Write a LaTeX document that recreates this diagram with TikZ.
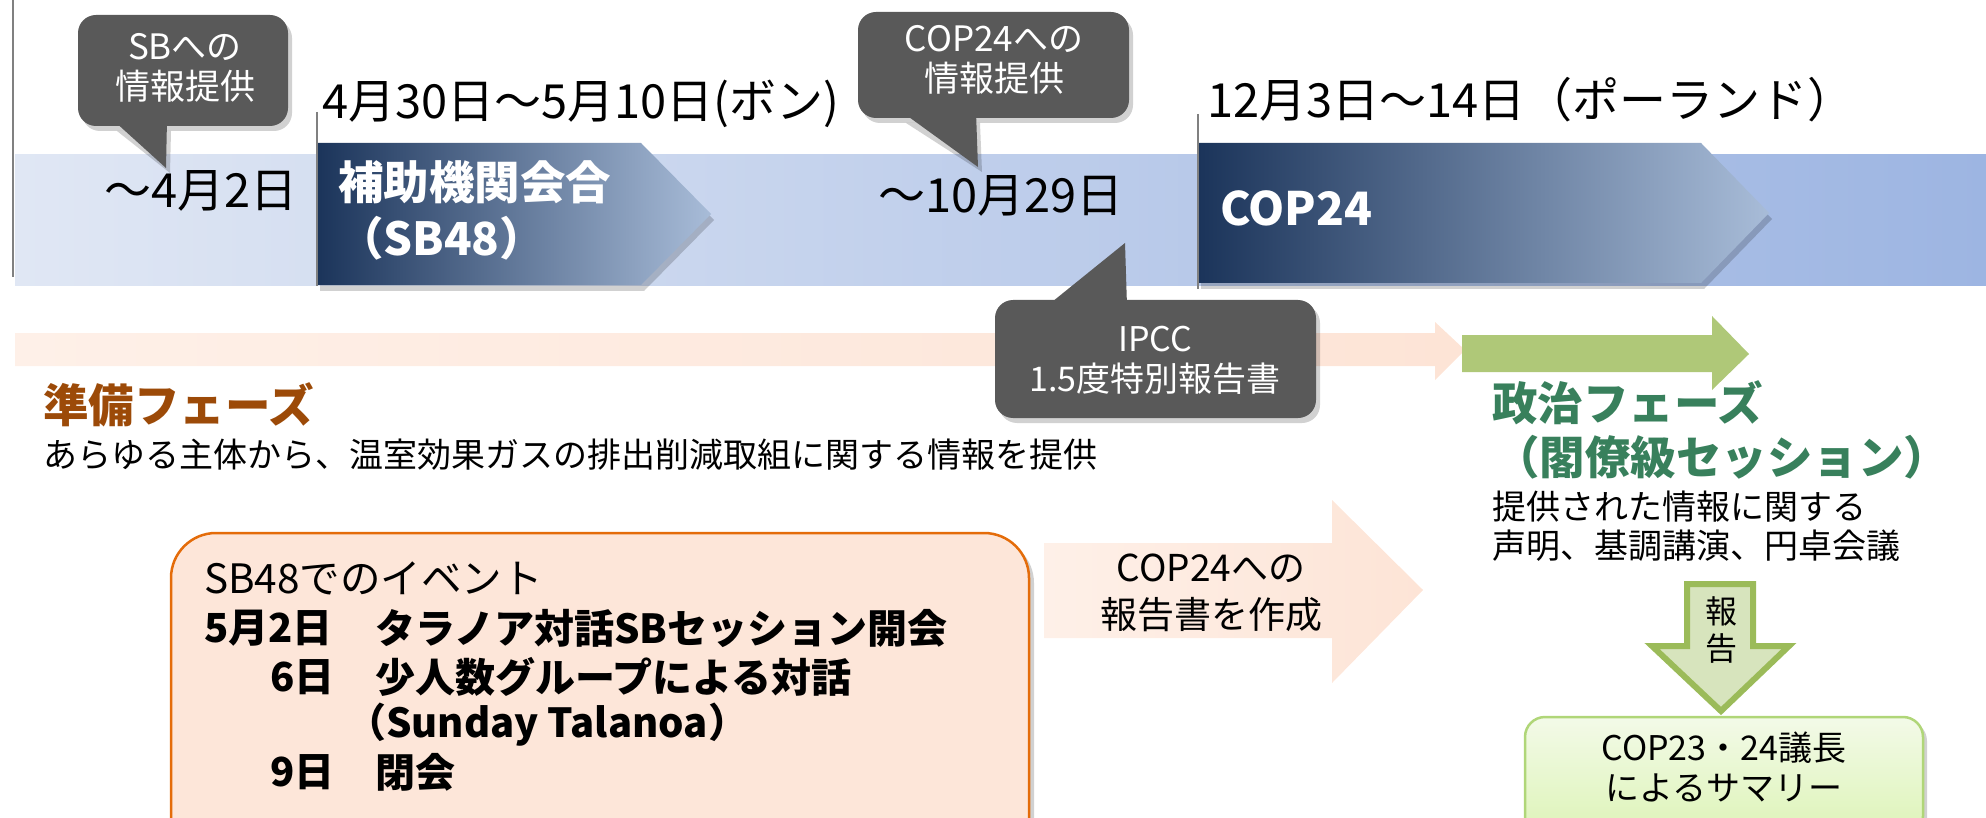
\documentclass[tikz,border=0pt]{standalone}
\usepackage{fontspec}
\setmainfont{Noto Sans CJK JP}
\definecolor{calloutgray}{RGB}{89,89,89}
\definecolor{navydark}{RGB}{27,52,90}
\definecolor{navylight}{RGB}{168,188,216}
\definecolor{bandleft}{RGB}{224,231,244}
\definecolor{bandright}{RGB}{157,181,226}
\definecolor{peach}{RGB}{253,228,214}
\definecolor{peachlight}{RGB}{254,240,232}
\definecolor{greenarrow}{RGB}{175,200,120}
\definecolor{greentext}{RGB}{56,128,92}
\definecolor{browntext}{RGB}{156,74,8}
\definecolor{arrowfill}{RGB}{215,228,189}
\definecolor{arrowedge}{RGB}{155,187,89}
\definecolor{boxorange}{RGB}{228,108,10}
\definecolor{boxpeach}{RGB}{253,230,217}
\definecolor{sumtop}{RGB}{243,250,232}
\definecolor{sumbot}{RGB}{221,244,183}
\definecolor{sumedge}{RGB}{176,214,120}
\definecolor{markline}{RGB}{128,128,128}
\tikzset{
  txt/.style={inner sep=0pt, outer sep=0pt},
  f33/.style={txt, font=\fontsize{34}{40}\selectfont},
  f45/.style={txt, font=\fontsize{47}{54}\selectfont},
  fb44/.style={txt, font=\fontsize{45.5}{56}\selectfont\bfseries},
  f40/.style={txt, font=\fontsize{40.5}{48}\selectfont},
  fb40/.style={txt, font=\fontsize{40}{48}\selectfont\bfseries},
  calltext/.style={txt, white, align=center, font=\fontsize{35}{40}\selectfont},
  marker/.style={markline, line width=2.5pt},
  shadowfill/.style={black, opacity=0.18},
}
\begin{document}
\begin{tikzpicture}[x=1pt,y=-1pt]
\useasboundingbox (0,0) rectangle (1986,818);

% timeline band
\shade[left color=bandleft, right color=bandright] (15,155) rectangle (1986,286);

% left vertical line
\draw[marker] (13,0) -- (13,277);

% chevron 1
\fill[shadowfill] (320,149) -- (644,149) -- (714,220) -- (644,291) -- (320,291) -- cycle;
\shade[left color=navydark, right color=navylight] (317,143) -- (641,143) -- (711,214) -- (641,285) -- (317,285) -- cycle;
\draw[marker] (317,112) -- (317,286);
\node[fb44, white, anchor=west, align=left] (sbmeet) at (338,210) {補助機関会合\\（SB48）};

% chevron 2
\fill[shadowfill] (1201,149) -- (1704,149) -- (1772,219) -- (1704,289) -- (1201,289) -- cycle;
\shade[left color=navydark, right color=navylight] (1198,143) -- (1701,143) -- (1769,213) -- (1701,283) -- (1198,283) -- cycle;
\draw[marker] (1198,114) -- (1198,289);
\node[txt, white, anchor=west, font=\fontsize{46}{54}\selectfont\bfseries] (cop) at (1220,208) {COP24};

% date labels
\node[f45, anchor=west] (d1) at (104,191) {〜4月2日};
\node[f45, anchor=west] (d2) at (322,104) {4月30日〜5月10日(ボン)};
\node[f45, anchor=west] (d3) at (878,196) {〜10月29日};
\node[f45, anchor=west] (d4) at (1207,100) {12月3日〜14日（ポーランド）};

% callout 1
\fill[shadowfill, rounded corners=18pt] (82,20) rectangle (292,131);
\fill[shadowfill] (117,131) -- (170,173) -- (171,131) -- cycle;
\fill[calloutgray, rounded corners=18pt] (78,15) rectangle (288,126);
\fill[calloutgray] (113,120) -- (166,168) -- (167,120) -- cycle;
\node[calltext] (c1) at (185,68) {SBへの\\情報提供};

% callout 2
\fill[shadowfill, rounded corners=18pt] (862,17) rectangle (1133,123);
\fill[shadowfill] (906,123) -- (982,172) -- (980,123) -- cycle;
\fill[calloutgray, rounded corners=18pt] (858,12) rectangle (1129,118);
\fill[calloutgray] (902,112) -- (978,167) -- (976,112) -- cycle;
\node[calltext] (c2) at (994,60) {COP24への\\情報提供};

% big peach arrow
\shade[left color=peachlight, right color=peach] (15,333) -- (1435,333) -- (1435,322) -- (1465,350) -- (1435,380) -- (1435,366) -- (15,366) -- cycle;

% callout 3 (IPCC)
\fill[shadowfill, rounded corners=18pt] (999,305) rectangle (1320,423);
\fill[calloutgray, rounded corners=18pt] (995,300) rectangle (1316,418);
\fill[calloutgray] (1047,306) -- (1125,243) -- (1127,306) -- cycle;
\node[calltext, font=\fontsize{34}{40}\selectfont] (c3) at (1155,360) {IPCC\\1.5度特別報告書};

% green arrow
\fill[greenarrow] (1462,335) -- (1712,335) -- (1712,316) -- (1749,354) -- (1712,390) -- (1712,372) -- (1462,372) -- cycle;

% preparation phase texts
\node[fb44, browntext, anchor=west] (prep) at (43,405) {準備フェーズ};
\node[f33, anchor=west] (prepdesc) at (43,455) {あらゆる主体から、温室効果ガスの排出削減取組に関する情報を提供};

% political phase texts
\node[fb44, greentext, anchor=west] (pol1) at (1492,403) {政治フェーズ};
\node[fb44, greentext, anchor=west] (pol2) at (1494,457) {（閣僚級セッション）};
\node[f33, anchor=west] (pold1) at (1492,507) {提供された情報に関する};
\node[f33, anchor=west] (pold2) at (1492,546) {声明、基調講演、円卓会議};

% down arrow
\filldraw[fill=arrowfill, draw=arrowedge, line width=6pt, line join=miter] (1687,584) -- (1753,584) -- (1753,646) -- (1789,646) -- (1721,711) -- (1652,646) -- (1687,646) -- cycle;
\node[txt, align=center, font=\fontsize{32}{37}\selectfont] (rep) at (1721,630) {報\\告};

% summary box
\fill[shadowfill, rounded corners=20pt] (1528,721) rectangle (1927,840);
\shade[top color=sumtop, bottom color=sumbot, draw=sumedge, line width=2.5pt, rounded corners=20pt] (1525,717) rectangle (1923,836);
\node[txt, align=center, font=\fontsize{34}{40}\selectfont] (sum) at (1724,767) {COP23・24議長\\によるサマリー};

% peach arrow 2
\shade[left color=peachlight, right color=peach] (1044,543) -- (1332,543) -- (1332,500) -- (1423,590) -- (1332,683) -- (1332,638) -- (1044,638) -- cycle;
\node[txt, align=center, font=\fontsize{37}{47}\selectfont] (rpt) at (1211,593) {COP24への\\報告書を作成};

% SB48 box
\fill[shadowfill, rounded corners=45pt] (175,538) rectangle (1034,870);
\filldraw[fill=boxpeach, draw=boxorange, line width=2.5pt, rounded corners=45pt] (171,533) rectangle (1029,866);
\node[f40, anchor=west] (ev) at (204,578) {SB48でのイベント};
\node[fb40, anchor=west] (e1d) at (204,628) {5月2日};
\node[fb40, anchor=west] (e1t) at (375,628) {タラノア対話SBセッション開会};
\node[fb40, anchor=west] (e2d) at (270,677) {6日};
\node[fb40, anchor=west] (e2t) at (375,677) {少人数グループによる対話};
\node[fb40, anchor=west] (e2s) at (346,725) {（Sunday Talanoa）};
\node[fb40, anchor=west] (e3d) at (270,772) {9日};
\node[fb40, anchor=west] (e3t) at (375,772) {閉会};
\end{tikzpicture}
\end{document}
